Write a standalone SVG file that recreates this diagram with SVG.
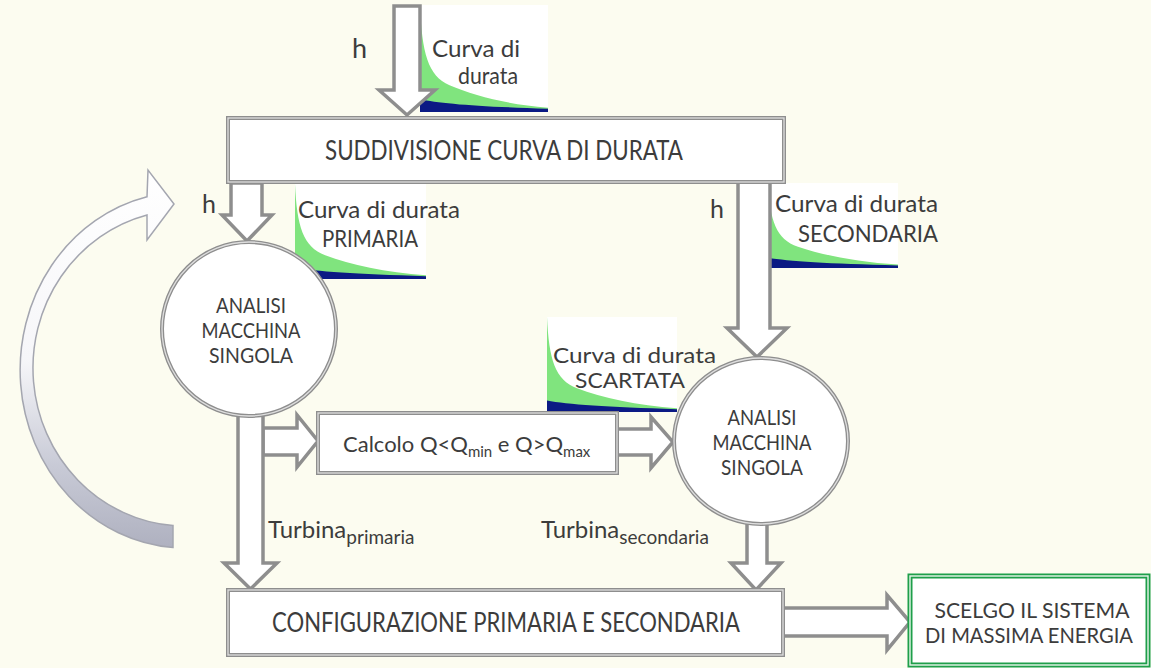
<svg xmlns="http://www.w3.org/2000/svg" xmlns:xlink="http://www.w3.org/1999/xlink" width="1151" height="668" viewBox="0 0 1151 668">
<style>
.bg{fill:#fcfcf0}
.fr{fill:#ffffff;stroke:#8e8e8e;stroke-width:4}
.frh{fill:none;stroke:#dedede;stroke-width:1.3}
.ar{fill:#ffffff;stroke:#8e8e8e;stroke-width:3.5;stroke-linejoin:miter}
.t{font-family:Lato,"Liberation Sans",sans-serif;fill:#3c3c3c}
.gf{fill:#ffffff;stroke:#1f9f4a;stroke-width:5}
.gfh{fill:none;stroke:#e8f6ec;stroke-width:1.4}
</style>
<defs>
<symbol id="curve" viewBox="0 0 130 100" preserveAspectRatio="none">
<rect x="0" y="0" width="130" height="100" fill="#ffffff"/>
<path d="M0,0 C2,45 8,66 30,75 C55,85 90,93 130,96 L130,100 L0,100 Z" fill="#80e47e"/>
<path d="M0,88 C20,92 60,95 130,97 L130,100 L0,100 Z" fill="#0b1a84"/>
</symbol>
<linearGradient id="cg" gradientUnits="userSpaceOnUse" x1="0" y1="170" x2="0" y2="550">
<stop offset="0" stop-color="#ffffff"/>
<stop offset="0.5" stop-color="#f6f6f9"/>
<stop offset="0.78" stop-color="#c8cad6"/>
<stop offset="1" stop-color="#aeb0bf"/>
</linearGradient>
</defs>
<rect class="bg" x="0" y="0" width="1151" height="668"/>

<g id="curves">
<use xlink:href="#curve" x="420" y="5" width="128" height="107"/>
<use xlink:href="#curve" x="295" y="184" width="131" height="95"/>
<use xlink:href="#curve" x="768" y="183" width="130" height="85"/>
<use xlink:href="#curve" x="547" y="317" width="130" height="95"/>
</g>

<g id="connectors">
<path class="ar" d="M394,6 L420,6 L420,90 L435,90 L407,115 L379,90 L394,90 Z"/>
<path class="ar" d="M231,183 L262,183 L262,215 L272,215 L247,241 L222,215 L231,215 Z"/>
<path class="ar" d="M263,428 L297,428 L297,415 L318,441 L297,467 L297,455 L263,455 Z"/>
<path class="ar" d="M238,410 L263,410 L263,563 L277,563 L250.5,589 L224,563 L238,563 Z"/>
<path class="ar" d="M617,429 L651,429 L651,417 L673,442 L651,468 L651,455 L617,455 Z"/>
<path class="ar" d="M738,182 L770,182 L770,328 L787,328 L757,357 L727,328 L738,328 Z"/>
<path class="ar" d="M747,518 L767,518 L767,563 L781,563 L756,590 L731,563 L747,563 Z"/>
<path class="ar" d="M783,608 L887,608 L887,595 L910,622 L887,650 L887,636 L783,636 Z"/>
<path d="M147,196.8 A165,178 0 0 0 173,547.5 L173,525.5 A152,158 0 0 1 147,215 L147,240 L174,204 L148,170 Z" fill="url(#cg)" stroke="#a4a6b0" stroke-width="1.5"/>
</g>

<g id="n-suddivisione">
<rect class="fr" x="228" y="118" width="556" height="64"/>
<rect class="frh" x="228" y="118" width="556" height="64"/>
<text class="t" x="325" y="160" font-size="26" textLength="358" lengthAdjust="spacingAndGlyphs">SUDDIVISIONE CURVA DI DURATA</text>
</g>

<g id="n-analisi1">
<circle class="fr" cx="249" cy="329" r="87"/>
<circle class="frh" cx="249" cy="329" r="87"/>
<text class="t" x="251" y="313" font-size="22" text-anchor="middle" textLength="70" lengthAdjust="spacingAndGlyphs">ANALISI</text>
<text class="t" x="251" y="338" font-size="22" text-anchor="middle" textLength="99" lengthAdjust="spacingAndGlyphs">MACCHINA</text>
<text class="t" x="251" y="363" font-size="22" text-anchor="middle" textLength="84" lengthAdjust="spacingAndGlyphs">SINGOLA</text>
</g>

<g id="n-calcolo">
<rect class="fr" x="318" y="413" width="299" height="60"/>
<rect class="frh" x="318" y="413" width="299" height="60"/>
<text class="t" x="343" y="452" font-size="22">Calcolo Q&lt;Q<tspan font-size="15" dy="5">min</tspan><tspan dy="-5"> e Q&gt;Q</tspan><tspan font-size="15" dy="5">max</tspan></text>
</g>

<g id="n-analisi2">
<ellipse class="fr" cx="761" cy="441" rx="87" ry="83"/>
<ellipse class="frh" cx="761" cy="441" rx="87" ry="83"/>
<text class="t" x="762" y="425" font-size="22" text-anchor="middle" textLength="69" lengthAdjust="spacingAndGlyphs">ANALISI</text>
<text class="t" x="762" y="450" font-size="22" text-anchor="middle" textLength="99" lengthAdjust="spacingAndGlyphs">MACCHINA</text>
<text class="t" x="762" y="475" font-size="22" text-anchor="middle" textLength="82" lengthAdjust="spacingAndGlyphs">SINGOLA</text>
</g>

<g id="n-configurazione">
<rect class="fr" x="228" y="590" width="555" height="65"/>
<rect class="frh" x="228" y="590" width="555" height="65"/>
<text class="t" x="272" y="632" font-size="26" textLength="468" lengthAdjust="spacingAndGlyphs">CONFIGURAZIONE PRIMARIA E SECONDARIA</text>
</g>

<g id="n-scelgo">
<rect class="gf" x="910" y="576" width="238" height="89"/>
<rect class="gfh" x="910" y="576" width="238" height="89"/>
<text class="t" x="1032" y="618" font-size="21" text-anchor="middle" textLength="195" lengthAdjust="spacingAndGlyphs">SCELGO IL SISTEMA</text>
<text class="t" x="1029" y="643" font-size="21" text-anchor="middle" textLength="208" lengthAdjust="spacingAndGlyphs">DI MASSIMA ENERGIA</text>
</g>

<g id="labels">
<text class="t" x="352" y="58" font-size="27">h</text>
<text class="t" x="432" y="57" font-size="24" textLength="88" lengthAdjust="spacingAndGlyphs">Curva di</text>
<text class="t" x="458" y="84" font-size="24" textLength="60" lengthAdjust="spacingAndGlyphs">durata</text>
<text class="t" x="202" y="213" font-size="25">h</text>
<text class="t" x="298" y="218" font-size="24" textLength="162" lengthAdjust="spacingAndGlyphs">Curva di durata</text>
<text class="t" x="322" y="247" font-size="24" textLength="96" lengthAdjust="spacingAndGlyphs">PRIMARIA</text>
<text class="t" x="710" y="218" font-size="25">h</text>
<text class="t" x="775" y="212" font-size="24" textLength="163" lengthAdjust="spacingAndGlyphs">Curva di durata</text>
<text class="t" x="798" y="242" font-size="24" textLength="140" lengthAdjust="spacingAndGlyphs">SECONDARIA</text>
<text class="t" x="553" y="363" font-size="22" textLength="163" lengthAdjust="spacingAndGlyphs">Curva di durata</text>
<text class="t" x="575" y="388" font-size="22" textLength="110" lengthAdjust="spacingAndGlyphs">SCARTATA</text>
<text class="t" x="268" y="538" font-size="24">Turbina<tspan font-size="19" dy="6">primaria</tspan></text>
<text class="t" x="541" y="538" font-size="24">Turbina<tspan font-size="19" dy="6">secondaria</tspan></text>
</g>
</svg>
